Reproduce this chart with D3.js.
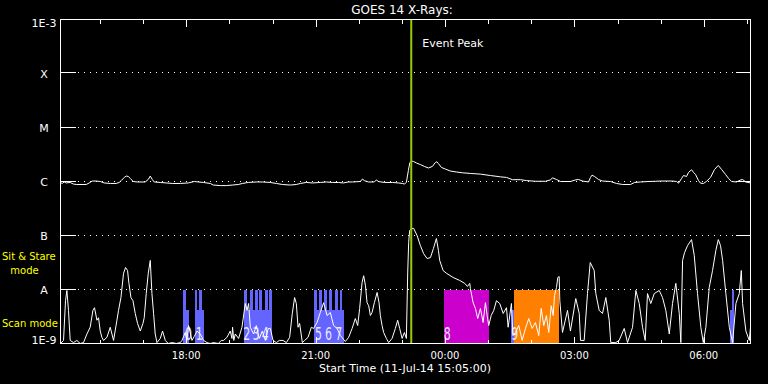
<!DOCTYPE html>
<html>
<head>
<meta charset="utf-8">
<style>
body { margin: 0; background: #000; }
svg { display: block; background: #000; }
text { font-family: "DejaVu Sans", sans-serif; fill: #fff; }
.grid { stroke: #fff; stroke-dasharray: 1 5; shape-rendering: crispEdges; }
.tick { stroke: #fff; shape-rendering: crispEdges; }
.frame { fill: none; stroke: #fff; shape-rendering: crispEdges; }
.flux { fill: none; stroke: #fff; stroke-width: 1; stroke-linejoin: round; }
.mode { fill: #ff0; font-size: 10px; }
.obs-label { font-size: 17px; fill: #e8e8ff; text-anchor: middle; }
</style>
<script src="https://d3js.org/d3.v7.min.js"></script>
</head>
<body>
<svg width="768" height="384"></svg>
<script>

// minutes after start time (11-Jul-14 15:05 UT), flux in W/m^2
var longXray = [
  [0,9.6e-7],[2.4,9.2e-7],[5.2,9.8e-7],[7.9,9.4e-7],[13.5,9.6e-7],[17.7,9.0e-7],[21.9,8.8e-7],[35.8,8.8e-7],
  [40.0,9.4e-7],[44.1,1.02e-6],[49.7,1.02e-6],[55.3,1.0e-6],[60.8,9.4e-7],[69.2,9.2e-7],[77.5,9.2e-7],[81.7,9.6e-7],
  [84.5,1.04e-6],[88.7,1.19e-6],[91.5,1.26e-6],[94.3,1.24e-6],[97.1,1.14e-6],[101.2,1.0e-6],[106.8,9.8e-7],[117.9,9.8e-7],
  [122.1,1.09e-6],[124.9,1.26e-6],[127.7,1.09e-6],[130.4,9.8e-7],[138.8,9.6e-7],[147.1,9.4e-7],[155.5,9.2e-7],[166.6,9.2e-7],
  [177.8,9.4e-7],[186.1,1.0e-6],[191.7,9.8e-7],[198.6,9.6e-7],[208.4,9.2e-7],[212.6,8.6e-7],[222.3,8.4e-7],[230.7,8.4e-7],
  [239.0,8.6e-7],[247.4,8.8e-7],[253.0,9.2e-7],[261.3,9.6e-7],[272.4,9.8e-7],[280.8,9.8e-7],[291.9,9.6e-7],[300.3,9.2e-7],
  [308.6,8.8e-7],[319.8,8.6e-7],[328.1,8.8e-7],[333.7,9.2e-7],[342.0,9.6e-7],[350.4,9.4e-7],[361.5,9.6e-7],[369.9,9.8e-7],
  [378.2,9.6e-7],[386.6,9.6e-7],[393.5,9.4e-7],[400.5,9.8e-7],[406.1,9.8e-7],[417.2,1.0e-6],[420.0,1.11e-6],[422.8,1.04e-6],
  [428.3,9.8e-7],[436.7,9.8e-7],[439.5,1.07e-6],[442.3,1.0e-6],[450.6,9.6e-7],[461.8,9.6e-7],[470.1,9.4e-7],[475.7,9.2e-7],
  [478.5,9.0e-7],[481.2,9.6e-7],[484.0,1.6e-6],[486.1,2.25e-6],[488.2,2.4e-6],[491.0,2.35e-6],[495.2,2.2e-6],[500.7,2.06e-6],
  [506.3,1.9e-6],[511.9,1.78e-6],[517.4,1.9e-6],[521.6,2.25e-6],[523.7,2.32e-6],[525.8,2.15e-6],[530.0,1.82e-6],[535.5,1.7e-6],
  [542.5,1.56e-6],[550.8,1.5e-6],[559.2,1.45e-6],[570.3,1.41e-6],[584.2,1.37e-6],[598.1,1.29e-6],[612.1,1.22e-6],[620.5,1.19e-6],
  [628.8,1.08e-6],[640.0,1.08e-6],[648.3,1.04e-6],[660.8,1.01e-6],[674.8,1.01e-6],[681.7,1.07e-6],[684.5,1.17e-6],[690.1,1.09e-6],
  [695.6,1.0e-6],[709.5,1.0e-6],[716.5,1.07e-6],[720.7,1.09e-6],[726.3,1.02e-6],[734.6,9.8e-7],[737.4,1.19e-6],[739.5,1.31e-6],
  [743.0,1.24e-6],[748.5,1.09e-6],[754.1,1.02e-6],[765.2,1.0e-6],[773.6,9.2e-7],[782.0,8.8e-7],[793.1,8.8e-7],[798.7,9.6e-7],
  [807.0,9.8e-7],[818.2,1.0e-6],[827.9,1.01e-6],[834.9,1.02e-6],[851.5,1.02e-6],[857.1,1.0e-6],[859.9,9.3e-7],[864.1,1.14e-6],
  [866.8,1.29e-6],[871.0,1.24e-6],[873.8,1.47e-6],[878.0,1.65e-6],[880.8,1.47e-6],[883.5,1.35e-6],[887.7,1.04e-6],[890.5,9.3e-7],
  [894.7,9.2e-7],[898.9,1.01e-6],[904.4,1.19e-6],[910.0,1.67e-6],[915.2,1.98e-6],[919.8,1.67e-6],[925.3,1.35e-6],[929.5,1.14e-6],
  [933.7,1.0e-6],[940.7,9.8e-7],[946.3,1.07e-6],[949.0,1.09e-6],[953.2,9.8e-7],[960,9.4e-7]
];

var shortXray = [
  [0,1.0e-9],[4.2,1.14e-9],[7.0,6.2e-9],[8.9,9.6e-9],[11.1,4.1e-9],[13.5,1.14e-9],[18.1,1.04e-9],[22.8,1.14e-9],
  [27.4,1.0e-9],[32.0,1.04e-9],[36.8,1.5e-9],[41.3,2.0e-9],[45.1,4.1e-9],[47.3,4.6e-9],[50.7,2.7e-9],[52.9,3.0e-9],
  [55.3,1.7e-9],[57.6,1.3e-9],[59.9,1.14e-9],[64.6,1.3e-9],[69.2,2.0e-9],[73.8,1.14e-9],[78.5,2.7e-9],[80.7,4.1e-9],
  [84.1,7.1e-9],[87.7,2.0e-8],[90.5,2.55e-8],[93.3,2.25e-8],[95.2,1.3e-8],[98.0,7.1e-9],[100.8,6.2e-9],[104.0,3.6e-9],
  [107.2,2.35e-9],[111.0,1.7e-9],[114.7,2.35e-9],[116.5,3.0e-9],[119.3,8.4e-9],[122.1,2.0e-8],[124.9,3.45e-8],[127.2,8.4e-9],
  [129.5,3.6e-9],[131.8,1.5e-9],[134.2,1.04e-9],[138.8,1.24e-9],[142.0,1.7e-9],[145.8,1.14e-9],[149.9,1.0e-9],[155.5,1.04e-9],
  [161.1,1.0e-9],[166.6,1.04e-9],[169.0,1.14e-9],[173.6,1.6e-9],[175.7,1.14e-9],[178.2,2.15e-9],[182.9,1.14e-9],[186.1,1.35e-9],
  [189.9,1.7e-9],[194.5,1.5e-9],[199.1,1.14e-9],[203.8,1.04e-9],[208.4,1.0e-9],[213.0,1.04e-9],[219.5,1.0e-9],[223.7,1.14e-9],
  [226.9,1.14e-9],[231.6,1.3e-9],[236.2,1.7e-9],[238.6,1.24e-9],[239.4,2.0e-9],[241.1,1.14e-9],[243.2,1.5e-9],[247.8,1.24e-9],
  [252.5,2.0e-9],[257.1,5.5e-9],[259.5,4.1e-9],[261.7,5.5e-9],[264.1,2.0e-9],[268.7,1.5e-9],[272.4,2.15e-9],[276.6,1.24e-9],
  [280.8,1.7e-9],[285.0,1.14e-9],[289.1,1.9e-9],[291.9,1.9e-9],[295.7,1.14e-9],[300.3,1.04e-9],[304.5,1.14e-9],[309.6,1.14e-9],
  [314.2,1.04e-9],[318.8,1.3e-9],[322.5,3.6e-9],[325.7,7.1e-9],[328.1,5.5e-9],[330.5,2.0e-9],[332.7,2.35e-9],[336.5,1.04e-9],
  [339.7,1.14e-9],[344.4,1.3e-9],[349.0,2.0e-9],[352.2,1.9e-9],[356.9,2.45e-9],[361.5,3.75e-9],[366.1,5.7e-9],[370.9,3.3e-9],
  [375.4,3.75e-9],[380.0,2.15e-9],[384.8,1.9e-9],[389.4,1.4e-9],[396.3,1.09e-9],[400.9,1.3e-9],[405.7,1.9e-9],[410.2,2.9e-9],
  [413.5,2.15e-9],[416.2,4.45e-9],[419.6,1.35e-8],[421.8,1.8e-8],[424.2,1.2e-8],[426.5,5.7e-9],[428.8,5.0e-9],[431.1,3.3e-9],
  [433.5,3.75e-9],[436.7,5.7e-9],[440.5,8.8e-9],[443.2,5.7e-9],[445.0,3.3e-9],[447.4,2.15e-9],[449.6,1.6e-9],[453.4,1.24e-9],
  [456.6,1.04e-9],[461.3,1.24e-9],[465.9,1.9e-9],[469.1,2.7e-9],[471.9,1.9e-9],[475.3,1.24e-9],[478.5,1.6e-9],[481.2,1.24e-9],
  [483.1,2.1e-8],[484.4,7.4e-8],[485.8,1.24e-7],[488.2,1.35e-7],[491.4,1.35e-7],[496.1,1.0e-7],[500.7,6.5e-8],[505.3,4.6e-8],
  [510.0,3.75e-8],[514.7,3.9e-8],[518.8,5.7e-8],[523.0,8.8e-8],[525.8,5.3e-8],[527.6,3.45e-8],[532.3,2.25e-8],[536.9,2.0e-8],
  [546.3,1.67e-8],[555.4,1.47e-8],[562.4,1.3e-8],[566.2,1.14e-8],[569.4,1.3e-8],[570.3,1.04e-8],[574.1,5.7e-9],[577.3,4.45e-9],
  [580.5,2.9e-9],[584.2,4.45e-9],[588.0,2.45e-9],[591.2,5.7e-9],[593.6,3.3e-9],[595.8,2.15e-9],[599.2,3.3e-9],[602.8,4.1e-9],
  [606.5,6.2e-9],[611.1,5.5e-9],[615.9,3.6e-9],[620.5,4.6e-9],[622.8,2.0e-9],[627.4,5.5e-9],[629.5,1.4e-9],[633.0,1.6e-9],
  [637.6,2.15e-9],[642.3,1.14e-9],[646.9,1.9e-9],[651.5,2.9e-9],[656.2,1.9e-9],[660.8,2.45e-9],[665.4,1.4e-9],[668.8,4.45e-9],
  [672.4,2.15e-9],[676.1,3.3e-9],[679.3,1.6e-9],[682.7,5.0e-9],[685.5,3.3e-9],[687.3,7.7e-9],[690.1,1.09e-8],[691.9,1.67e-8],
  [693.8,1.74e-8],[694.7,6.2e-9],[698.4,1.6e-9],[705.4,4.1e-9],[709.5,1.7e-9],[716.9,6.8e-9],[721.7,3.6e-9],[723.5,1.14e-9],
  [728.6,1.14e-9],[733.2,8.4e-9],[737.0,3.16e-8],[742.5,2.25e-8],[744.8,8.4e-9],[749.5,4.1e-9],[754.1,3.6e-9],[758.7,7.1e-9],
  [763.4,2.7e-9],[765.6,1.04e-9],[772.6,1.04e-9],[777.3,1.14e-9],[784.3,1.9e-9],[788.9,1.04e-9],[795.9,2.0e-9],[800.5,9.6e-9],
  [805.2,5.5e-9],[809.8,2.0e-9],[813.5,1.14e-9],[816.7,8.4e-9],[821.3,5.5e-9],[826.1,8.4e-9],[833.0,9.6e-9],[837.6,7.1e-9],
  [842.2,4.1e-9],[847.0,1.5e-9],[851.5,5.5e-9],[856.1,1.3e-8],[860.9,3.6e-9],[863.1,1.04e-9],[865.5,3.45e-8],[868.2,4.8e-8],
  [872.4,6.5e-8],[878.0,8.4e-8],[881.7,4.3e-8],[886.3,8.4e-9],[890.9,2.0e-9],[894.3,1.04e-9],[897.9,2.0e-9],[902.6,1.09e-8],
  [907.2,2.25e-8],[911.8,5.3e-8],[915.2,8.4e-8],[918.3,6.5e-8],[921.2,3.45e-8],[925.7,8.4e-9],[930.5,2.0e-9],[935.1,1.04e-9],
  [939.7,5.5e-9],[944.4,8.4e-9],[947.2,2.25e-8],[949.0,5.5e-9],[953.6,1.7e-9],[958.3,1.14e-9],[960,2.0e-9]
];

// observation blocks: start, end (minutes), mode, program
var obsStart   = [170.8, 170.8, 187.5, 193.1, 187.5, 255.7, 255.7, 264.1, 271.0, 276.6, 285.0, 290.5,
                  353.2, 353.2, 359.7, 367.1, 373.6, 382.0, 388.4, 533.2, 627.4, 631.6, 931.3, 933.6];
var obsEnd     = [179.2, 175.0, 200.0, 197.3, 190.3, 294.7, 259.9, 267.6, 274.5, 280.1, 288.4, 294.0,
                  394.9, 356.9, 363.3, 370.9, 378.2, 385.6, 392.1, 595.8, 631.6, 693.8, 937.4, 937.4];
var obsMode    = ["scan", "stare", "scan", "stare", "stare", "scan", "stare", "stare", "stare", "stare", "stare", "stare",
                  "scan", "stare", "stare", "stare", "stare", "stare", "stare", "stare", "scan", "stare", "scan", "stare"];
var obsProgram = ["A", "A", "A", "A", "A", "A", "A", "A", "A", "A", "A", "A",
                  "A", "A", "A", "A", "A", "A", "A", "B", "A", "C", "A", "A"];
var modeLevel  = {scan: 4.1e-9, stare: 1e-8};

var obsIds    = ["0", "1", "2", "3", "4", "5", "6", "7", "8", "9"];
var obsIdTime = [178, 193, 259, 272, 285, 359, 373, 387, 538, 632];

var eventPeak = 488;  // 23:13 UT

var levelValues = [1e-9, 1e-8, 1e-7, 1e-6, 1e-5, 1e-4, 1e-3];
var levelNames  = ["1E-9", "A", "B", "C", "M", "X", "1E-3"];

var START = Date.UTC(2014, 6, 11, 15, 5);
function at(m) { return new Date(START + m * 60000); }

var svg = d3.select("svg"),
    pLeft = 60.5, pRight = 750.5, pTop = 19.5, pBottom = 343.5;

var x = d3.scaleUtc().domain([at(0), at(960)]).range([pLeft, pRight]);
var y = d3.scaleLog().domain([1e-9, 1e-3]).range([pBottom, pTop]);
var color = d3.scaleOrdinal().domain(["A", "B", "C"]).range(["#6464ff", "#cc00cc", "#ff8000"]);

svg.append("clipPath").attr("id", "plot")
  .append("rect").attr("x", pLeft).attr("y", pTop).attr("width", pRight - pLeft).attr("height", pBottom - pTop);

// dotted class levels
var inner = levelValues.slice(1, -1);
svg.append("g").selectAll("line").data(inner).enter().append("line")
    .attr("class", "grid")
    .attr("x1", 78).attr("x2", 734)
    .attr("y1", function(d) { return Math.round(y(d)) - 0.5; })
    .attr("y2", function(d) { return Math.round(y(d)) - 0.5; });

// observation blocks
var obs = d3.range(obsStart.length).map(function(i) {
  return {s: obsStart[i], e: obsEnd[i], mode: obsMode[i], prog: obsProgram[i]};
});
svg.append("g").attr("clip-path", "url(#plot)")
  .selectAll("rect").data(obs).enter().append("rect")
    .attr("x", function(d) { return x(at(d.s)); })
    .attr("width", function(d) { return x(at(d.e)) - x(at(d.s)); })
    .attr("y", function(d) { return y(modeLevel[d.mode]); })
    .attr("height", function(d) { return pBottom - y(modeLevel[d.mode]); })
    .style("fill", function(d) { return color(d.prog); })
    .style("shape-rendering", "crispEdges");

svg.append("g").selectAll("text").data(obsIds).enter().append("text")
    .attr("class", "obs-label")
    .attr("x", function(d, i) { return x(at(obsIdTime[i])); })
    .attr("y", 340)
    .attr("textLength", 7)
    .attr("lengthAdjust", "spacingAndGlyphs")
    .text(function(d) { return d; });

// flux curves
var line = d3.line()
    .x(function(d) { return x(at(d[0])); })
    .y(function(d) { return y(d[1]); });

var curves = svg.append("g").attr("clip-path", "url(#plot)");
curves.append("path").attr("class", "flux").attr("d", line(longXray));
curves.append("path").attr("class", "flux").attr("d", line(shortXray));

// event peak marker
svg.append("line")
    .attr("x1", x(at(eventPeak))).attr("x2", x(at(eventPeak)))
    .attr("y1", pTop).attr("y2", pBottom)
    .style("stroke", "#99cc00").style("stroke-width", 2);

svg.append("text")
    .attr("x", x(at(eventPeak)) + 11).attr("y", 47)
    .style("font-size", "11px")
    .text("Event Peak");

// frame
svg.append("rect").attr("class", "frame")
    .attr("x", pLeft).attr("y", pTop).attr("width", pRight - pLeft).attr("height", pBottom - pTop);

// y ticks, both sides
var yt = svg.append("g");
inner.forEach(function(v) {
  var yy = Math.round(y(v)) - 0.5;
  yt.append("line").attr("class", "tick").attr("x1", pLeft).attr("x2", pLeft + 15).attr("y1", yy).attr("y2", yy);
  yt.append("line").attr("class", "tick").attr("x1", pRight - 15).attr("x2", pRight).attr("y1", yy).attr("y2", yy);
});

svg.append("g").selectAll("text").data(levelValues).enter().append("text")
    .attr("x", 44)
    .attr("y", function(d, i) {
      if (i === 0) return 343.5;
      if (i === levelValues.length - 1) return 27;
      return y(d) + 4;
    })
    .style("font-size", "11px")
    .style("text-anchor", "middle")
    .text(function(d, i) { return levelNames[i]; });

// time ticks top and bottom
var hours = x.ticks(d3.utcHour.every(1));
var xt = svg.append("g");
hours.forEach(function(h) {
  var xx = Math.round(x(h)) + 0.5,
      len = h.getUTCHours() % 3 === 0 ? 7 : 4;
  xt.append("line").attr("class", "tick").attr("x1", xx).attr("x2", xx).attr("y1", pTop).attr("y2", pTop + len);
  xt.append("line").attr("class", "tick").attr("x1", xx).attr("x2", xx).attr("y1", pBottom).attr("y2", pBottom - len);
});

var fmt = d3.utcFormat("%H:%M");
svg.append("g").selectAll("text").data(x.ticks(d3.utcHour.every(3))).enter().append("text")
    .attr("x", function(d) { return x(d); })
    .attr("y", 359)
    .style("font-size", "10px")
    .style("text-anchor", "middle")
    .text(fmt);

svg.append("text")
    .attr("x", 405).attr("y", 372)
    .style("font-size", "11px").style("text-anchor", "middle")
    .text("Start Time (11-Jul-14 15:05:00)");

svg.append("text")
    .attr("x", 402).attr("y", 14)
    .style("font-size", "12px").style("text-anchor", "middle")
    .text("GOES 14 X-Rays:");

// mode legend
svg.append("text").attr("class", "mode").attr("x", 2).attr("y", 260).text("Sit & Stare");
svg.append("text").attr("class", "mode").attr("x", 24.5).attr("y", 274).style("text-anchor", "middle").text("mode");
svg.append("text").attr("class", "mode").attr("x", 2).attr("y", 327).text("Scan mode");

</script>
</body>
</html>
